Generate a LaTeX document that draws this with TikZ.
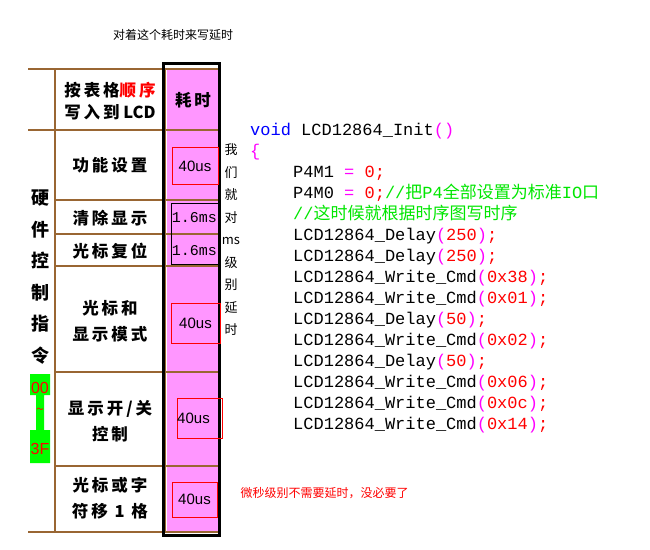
\documentclass[tikz,border=0pt]{standalone}
\usepackage{fontspec}
\setmainfont{Liberation Sans}
\newfontfamily\cjk{Noto Sans CJK SC}
\newfontfamily\cjkl{Noto Sans CJK SC}[LetterSpace=18]
\newfontfamily\codef{Liberation Mono}
\begin{document}
\begin{tikzpicture}[x=1pt,y=-1pt,
  brown/.style={draw=brown!80!black,line width=1.5pt},
  lab/.style={font=\cjkl\bfseries\fontsize{16.5}{20}\selectfont,align=center},
  tbox/.style={draw=red,fill=none,minimum width=46pt,font=\fontsize{15}{16}\selectfont,inner sep=0pt},
  vt/.style={font=\cjk\fontsize{13}{22.5}\selectfont,align=center},
  code/.style={anchor=base west,font=\codef\fontsize{17}{17}\selectfont,inner sep=0pt}]
\definecolor{mag}{RGB}{255,150,255}
\definecolor{cblue}{RGB}{0,0,255}
\definecolor{cmag}{RGB}{255,0,255}
\definecolor{cred}{RGB}{255,0,0}
\definecolor{cgreen}{RGB}{0,230,0}
\useasboundingbox (0,0) rectangle (650,549);
\fill[mag] (167,69) rectangle (218,532);
\foreach \y in {69,130,532} \draw[brown] (28,\y) -- (218,\y);
\foreach \y in {200,234,266,372,466} \draw[brown] (55,\y) -- (218,\y);
\draw[brown] (55,69) -- (55,532);
\draw[brown] (165,69) -- (165,532);
\draw[black,line width=3pt] (163,63) rectangle (219,535);
\node[font=\cjk\fontsize{12}{14}\selectfont] (top) at (173,35) {对着这个耗时来写延时};
\node[lab] (h1) at (110,101) {按表格{\color{red}顺序}\\[2pt]写入到{\cjk\bfseries\fontsize{16.5}{20}\selectfont\ LCD}};
\node[lab] (h2) at (193,100) {耗时};
\node[lab] (r1) at (110,165) {功能设置};
\node[lab] (r2) at (110,218) {清除显示};
\node[lab] (r3) at (110,251) {光标复位};
\node[lab] (r4) at (110,321) {光标和\\[6pt]显示模式};
\node[lab] (r5) at (110,421) {显示开/关\\[6pt]控制};
\node[lab] (r6) at (110,498) {光标或字\\[6pt]符移 1 格};
\node[font=\cjk\bfseries\fontsize{18}{31.5}\selectfont,align=center] (side) at (40,277) {硬\\件\\控\\制\\指\\令};
\fill[green] (30,374) rectangle (50,395) (36,395) rectangle (44,430) (30,430) rectangle (50,463);
\node[text=red,font=\fontsize{16}{16}\selectfont] (c1) at (40,388) {00};
\node[text=red,font=\cjk\fontsize{14}{16}\selectfont] (c2) at (40,411) {\char"7E};
\node[text=red,font=\fontsize{16}{16}\selectfont] (c3) at (40,449) {3F};
\node[tbox,minimum height=37pt] (t1) at (195,166) {40us};
\node[draw=black,minimum width=47pt,minimum height=61pt,inner sep=0pt] (t23) at (194.5,233.5) {};
\node[font=\codef\fontsize{15}{15}\selectfont,inner sep=0pt] (t2) at (194.5,218) {1.6ms};
\node[font=\codef\fontsize{15}{15}\selectfont,inner sep=0pt] (t3) at (194.5,251) {1.6ms};
\node[tbox,minimum width=49pt,minimum height=40pt] (t4) at (195.5,323) {40us};
\node[tbox,minimum width=45pt,minimum height=40pt] (t5) at (199.5,418) {\hspace*{-12pt}40us};
\node[tbox,minimum width=45pt,minimum height=35pt] (t6) at (194.5,499.5) {40us};
\node[vt] (v) at (231,240) {我\\们\\就\\对\\ms\\级\\别\\延\\时};
\node[anchor=west,font=\cjk\fontsize{12}{14}\selectfont,text=red] (bot) at (237,493) {微秒级别不需要延时，没必要了};
\node[code] (l1) at (250,135) {{\color{cblue}void} LCD12864\_Init{\color{cmag}()}};
\node[code] (l2) at (250,156) {\color{cmag}\{};
\node[code] (l3) at (293,177) {P4M1 {\color{cmag}=} \color{cred}0;};
\node[code] (l4) at (293,198) {P4M0 {\color{cmag}=} \color{cred}0;\color{cgreen}//{\cjk 把}P4{\cjk 全部设置为标准}IO{\cjk 口}};
\node[code] (l5) at (293,219) {\color{cgreen}//{\cjk 这时候就根据时序图写时序}};
\node[code] (l6) at (293,240) {LCD12864\_Delay\color{cmag}(\color{cred}250\color{cmag})\color{cred};};
\node[code] (l7) at (293,261) {LCD12864\_Delay\color{cmag}(\color{cred}250\color{cmag})\color{cred};};
\node[code] (l8) at (293,282) {LCD12864\_Write\_Cmd\color{cmag}(\color{cred}0x38\color{cmag})\color{cred};};
\node[code] (l9) at (293,303) {LCD12864\_Write\_Cmd\color{cmag}(\color{cred}0x01\color{cmag})\color{cred};};
\node[code] (l10) at (293,324) {LCD12864\_Delay\color{cmag}(\color{cred}50\color{cmag})\color{cred};};
\node[code] (l11) at (293,345) {LCD12864\_Write\_Cmd\color{cmag}(\color{cred}0x02\color{cmag})\color{cred};};
\node[code] (l12) at (293,366) {LCD12864\_Delay\color{cmag}(\color{cred}50\color{cmag})\color{cred};};
\node[code] (l13) at (293,387) {LCD12864\_Write\_Cmd\color{cmag}(\color{cred}0x06\color{cmag})\color{cred};};
\node[code] (l14) at (293,408) {LCD12864\_Write\_Cmd\color{cmag}(\color{cred}0x0c\color{cmag})\color{cred};};
\node[code] (l15) at (293,429) {LCD12864\_Write\_Cmd\color{cmag}(\color{cred}0x14\color{cmag})\color{cred};};
\end{tikzpicture}
\end{document}
